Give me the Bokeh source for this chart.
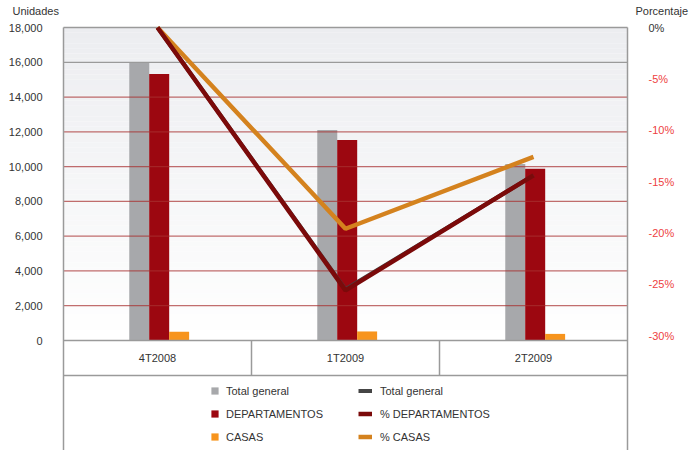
from bokeh.plotting import figure
from bokeh.models import Range1d, Legend, LegendItem, ColumnDataSource
from bokeh.core.properties import value
from bokeh.embed import file_html
from bokeh.resources import INLINE

# ---- data -------------------------------------------------------------
periods = ["4T2008", "1T2009", "2T2009"]
total_general = [16000, 12100, 10150]
departamentos = [15330, 11530, 9870]
casas = [510, 520, 380]

pct_total = [0.0, -25.5, -14.4]
pct_departamentos = [0.0, -25.6, -14.4]
pct_casas = [0.0, -19.6, -12.6]

unit_ticks = [0, 2000, 4000, 6000, 8000, 10000, 12000, 14000, 16000, 18000]
pct_ticks = [0, -5, -10, -15, -20, -25, -30]

# ---- layout constants (pixels) -----------------------------------------
W, H = 700, 450
BOX_LEFT, BOX_RIGHT = 63, 627     # bordered chart box
BOX_TOP, ZERO_Y = 27, 340         # 18,000 line and 0 line
TABLE_H = 35                      # category row under the bars
CAT_PX = (BOX_RIGHT - BOX_LEFT) / len(periods)
UNITS_PER_PX = 18000 / (ZERO_Y - BOX_TOP)
PX_PER_PCT = 308 / 30

FONT = "Liberation Sans"
TEXT_COLOR = "#333333"
PCT_COLOR = "#ee3f42"
GRAY, RED, ORANGE = "#a7a8ab", "#9c0710", "#f7941d"
LINE_GRAY, LINE_RED, LINE_ORANGE = "#454545", "#7b0a0a", "#d4821e"
BORDER = "#9a9a9a"
GRID_RED = "#a83030"

n = len(periods)
x_center = [i + 0.5 for i in range(n)]

x_start = -BOX_LEFT / CAT_PX
x_end = n + (W - BOX_RIGHT) / CAT_PX
y_start = -(H - ZERO_Y) * UNITS_PER_PX
y_end = 18000 + BOX_TOP * UNITS_PER_PX

p = figure(width=W, height=H, output_backend="svg", toolbar_location=None,
           x_range=Range1d(x_start, x_end), y_range=Range1d(y_start, y_end),
           x_axis_location=None, y_axis_location=None,
           min_border=0, min_border_left=0, min_border_right=0,
           min_border_top=0, min_border_bottom=0)
p.extra_y_ranges = {"pct": Range1d(-(H - BOX_TOP) / PX_PER_PCT, BOX_TOP / PX_PER_PCT)}
p.xgrid.visible = False
p.ygrid.visible = False
p.outline_line_color = None
p.background_fill_color = "white"
p.border_fill_color = "white"

# soft vertical gradient behind the bars
n_bands = 60
band_y0, band_y1, band_colors = [], [], []
top_rgb, bot_rgb = (236, 237, 240), (255, 255, 255)
for i in range(n_bands):
    t = i / (n_bands - 1)
    rgb = tuple(int(round(b + (a - b) * t)) for a, b in zip(top_rgb, bot_rgb))
    band_y0.append(18000 * i / n_bands)
    band_y1.append(18000 * (i + 1) / n_bands)
    band_colors.append("#%02x%02x%02x" % rgb)
p.quad(left=0, right=n, bottom=band_y0, top=band_y1, fill_color=band_colors, line_color=None)

src = ColumnDataSource(dict(period=periods, xc=x_center, total=total_general,
                            dept=departamentos, casas=casas, p_total=pct_total,
                            p_dept=pct_departamentos, p_casas=pct_casas))

BW = 20 / CAT_PX
r_total = p.vbar(x=[x - 0.097 for x in x_center], top=total_general, width=BW,
                 fill_color=GRAY, line_color=None)
r_dept = p.vbar(x=[x + 0.009 for x in x_center], top=departamentos, width=BW,
                fill_color=RED, line_color=None)
r_casas = p.vbar(x=[x + 0.115 for x in x_center], top=casas, width=BW,
                 fill_color=ORANGE, line_color=None)

# grid lines drawn over the bars
red_grid = unit_ticks[1:-2]
p.segment(x0=0, x1=n, y0=red_grid, y1=red_grid, line_color=GRID_RED,
          line_alpha=0.7, line_width=1.2)
p.segment(x0=0, x1=n, y0=unit_ticks[-2], y1=unit_ticks[-2], line_color=BORDER, line_width=1.2)

# chart box, category row rules and dividers
table_bottom = -TABLE_H * UNITS_PER_PX
h_rules = [18000, 0, table_bottom]
p.segment(x0=0, x1=n, y0=h_rules, y1=h_rules, line_color=BORDER, line_width=1.5)
p.segment(x0=[0, n], x1=[0, n], y0=18000, y1=y_start, line_color=BORDER, line_width=1.5)
dividers = list(range(1, n))
p.segment(x0=dividers, x1=dividers, y0=0, y1=table_bottom, line_color=BORDER, line_width=1.5)
p.text(x="xc", y=table_bottom / 2, text="period", source=src,
       text_align="center", text_baseline="middle", text_font=value(FONT),
       text_font_size="11px", text_color=TEXT_COLOR)

# left tick labels (units)
p.text(x=x_start + (BOX_LEFT - 21) / CAT_PX, y=unit_ticks,
       text=[f"{t:,}" for t in unit_ticks], text_align="right", text_baseline="middle",
       text_font=value(FONT), text_font_size="11px", text_color=TEXT_COLOR)
# right tick labels (percentage); zero in dark text, negatives in red
p.text(x=n + 21 / CAT_PX, y=pct_ticks, y_range_name="pct",
       text=[f"{t}%" for t in pct_ticks], text_align="left", text_baseline="middle",
       text_font=value(FONT), text_font_size="11px",
       text_color=[TEXT_COLOR if t == 0 else PCT_COLOR for t in pct_ticks])
# axis captions
cap_y = y_end - 10 * UNITS_PER_PX
p.text(x=[x_start + 12 / CAT_PX, n + 8 / CAT_PX], y=cap_y, text=["Unidades", "Porcentaje"],
       text_align="left", text_baseline="middle", text_font=value(FONT),
       text_font_size="11px", text_color=TEXT_COLOR)

# percentage lines
l_total = p.line(x="xc", y="p_total", source=src, y_range_name="pct",
                 line_color=LINE_GRAY, line_width=4)
l_casas = p.line(x="xc", y="p_casas", source=src, y_range_name="pct",
                 line_color=LINE_ORANGE, line_width=4.5)
l_dept = p.line(x="xc", y="p_dept", source=src, y_range_name="pct",
                line_color=LINE_RED, line_width=4.5)

# legends below the category row
common = dict(orientation="vertical", padding=0, margin=0, border_line_color=None,
              background_fill_alpha=0, label_text_font=FONT, label_text_font_size="11px",
              label_text_color=TEXT_COLOR, label_height=13, spacing=10)
leg_bars = Legend(items=[LegendItem(label="Total general", renderers=[r_total]),
                         LegendItem(label="DEPARTAMENTOS", renderers=[r_dept]),
                         LegendItem(label="CASAS", renderers=[r_casas])],
                  location=(210, 7), glyph_width=9, glyph_height=9, label_standoff=7, **common)
leg_lines = Legend(items=[LegendItem(label="Total general", renderers=[l_total]),
                          LegendItem(label="% DEPARTAMENTOS", renderers=[l_dept]),
                          LegendItem(label="% CASAS", renderers=[l_casas])],
                   location=(358, 7), glyph_width=14, glyph_height=9, label_standoff=8, **common)
p.add_layout(leg_bars)
p.add_layout(leg_lines)

open("out.html", "w").write(file_html(p, INLINE))
